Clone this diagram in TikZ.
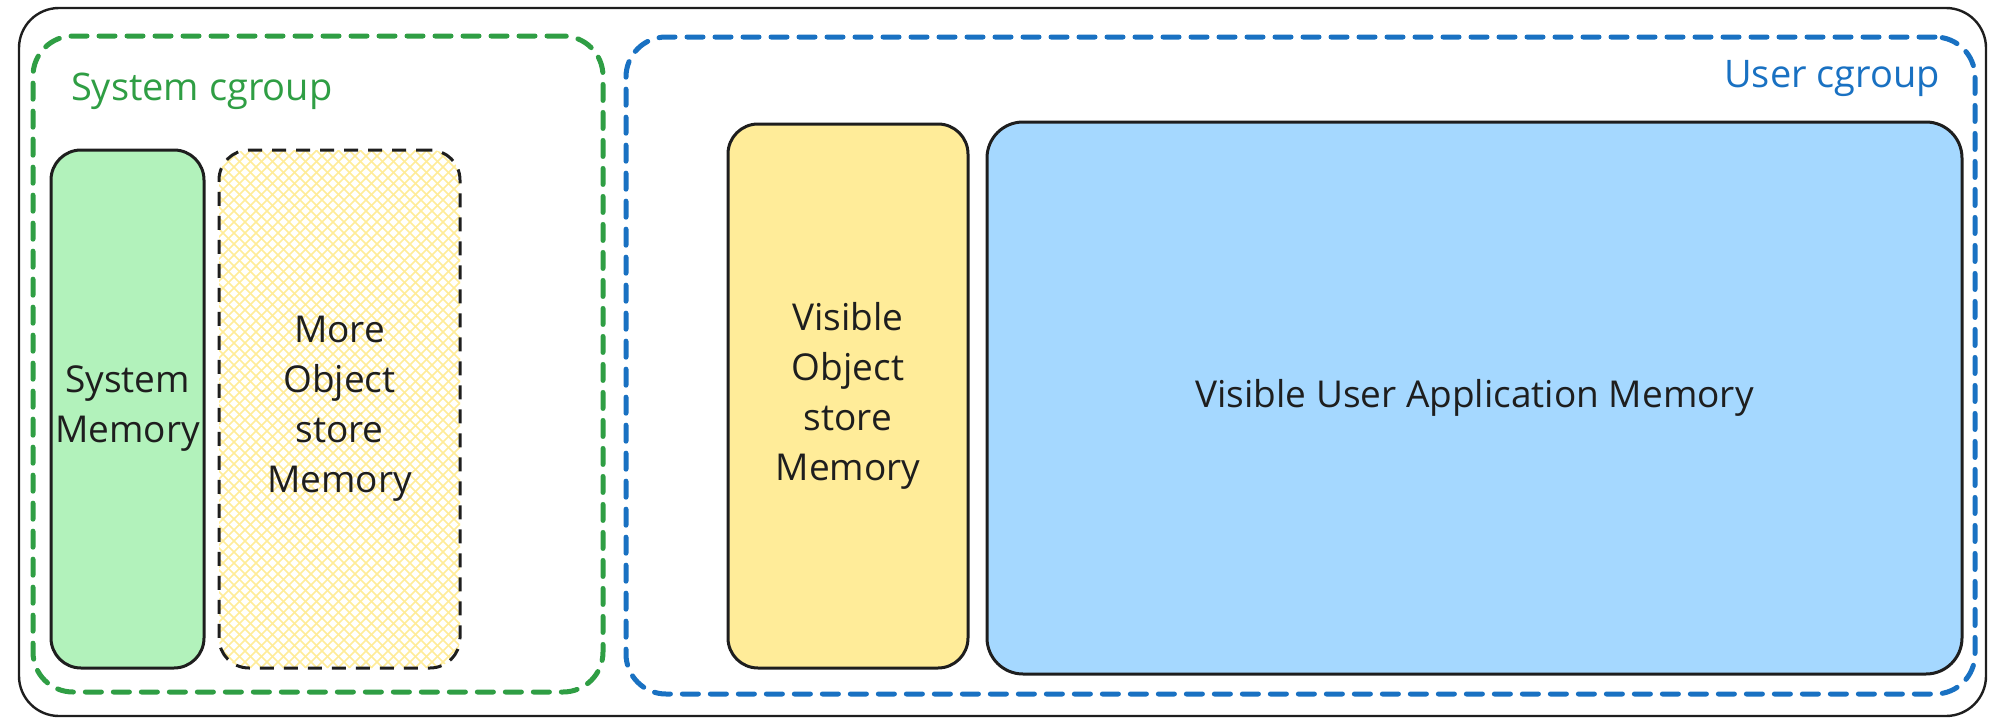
\documentclass[tikz,border=0pt]{standalone}
\usepackage{fontspec}
\setmainfont{Open Sans}
\usetikzlibrary{positioning}

\definecolor{grpgreen}{HTML}{2F9E44}
\definecolor{grpblue}{HTML}{1971C2}
\definecolor{memgreen}{HTML}{B2F2BB}
\definecolor{memyellow}{HTML}{FFEC99}
\definecolor{memblue}{HTML}{A5D8FF}
\definecolor{inkblack}{HTML}{1E1E1E}

\begin{document}
\begin{tikzpicture}[
    x=0.5pt, y=-0.5pt,
    txt/.style={font=\fontsize{18.5}{25}\selectfont, align=center, text=inkblack},
    frame/.style={draw=inkblack, line width=1.2pt, rounded corners=20pt},
    group/.style={line width=2.5pt, dash pattern=on 8pt off 6pt, line cap=round,
                  rounded corners=20pt},
    mem/.style={draw=inkblack, line width=1.5pt, rounded corners=15pt, inner xsep=0pt, txt},
    glabel/.style={font=\fontsize{19}{25}\selectfont},
    hatch/.style={draw=memyellow, line width=0.8pt}
  ]
    \useasboundingbox (0,0) rectangle (1999,728);

    % outer frame and the two cgroups
    \node[frame, minimum width=983.5pt, minimum height=354pt] (host) at (1002.5,362) {};
    \node[group, draw=grpgreen, minimum width=285pt, minimum height=328pt] (sysgrp) at (318,364) {};
    \node[group, draw=grpblue, minimum width=674.5pt, minimum height=328.5pt] (usrgrp) at (1300.5,365.5) {};
    \node[glabel, text=grpgreen, anchor=base west] (syslbl) at (64,100) {System cgroup};
    \node[glabel, text=grpblue, anchor=base east] (usrlbl) at (1947,87) {User cgroup};

    % system side
    \node[mem, fill=memgreen, minimum width=76.5pt, minimum height=259pt] (sysmem) at (127.5,409) {System\\Memory};
    \begin{scope}
      \clip[rounded corners=15pt] (219,150) rectangle (460,668);
      \foreach \i in {-520,-509,...,470} {
        \draw[hatch] (\i,150) -- ++(518,518);
        \draw[hatch] (\i,668) -- ++(518,-518);
      }
    \end{scope}
    \node[mem, dash pattern=on 7pt off 5pt, minimum width=120.5pt, minimum height=259pt] (moreobj) at (339.5,409) {More\\Object\\store\\Memory};

    % user side
    \node[mem, fill=memyellow, minimum width=120pt, minimum height=272pt] (visobj) at (848,396) {Visible\\Object\\store\\Memory};
    \node[mem, fill=memblue, rounded corners=18pt, minimum width=487.5pt, minimum height=276pt] (visapp) at (1474.5,398) {Visible User Application Memory};
  \end{tikzpicture}
\end{document}
